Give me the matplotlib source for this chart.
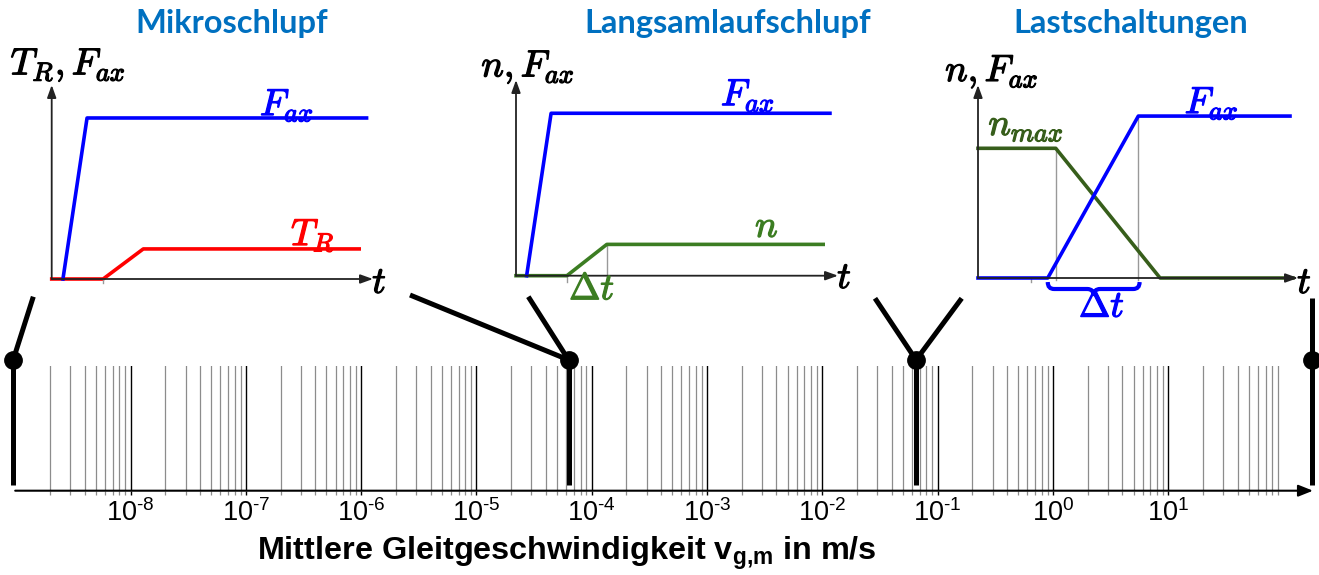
import numpy as np
import matplotlib
matplotlib.use("Agg")
import matplotlib.pyplot as plt
import matplotlib.patheffects as pe
from matplotlib.ticker import FixedLocator, LogLocator, NullFormatter
from matplotlib.patches import ConnectionPatch, PathPatch
from matplotlib.path import Path

plt.rcParams['font.family'] = ['Liberation Sans', 'DejaVu Sans']
plt.rcParams['mathtext.fontset'] = 'custom'
plt.rcParams['mathtext.rm'] = 'Liberation Sans'
plt.rcParams['mathtext.it'] = 'Liberation Sans:italic'
plt.rcParams['mathtext.bf'] = 'Liberation Sans:bold'

# velocity axis
decade_exp = [-8, -7, -6, -5, -4, -3, -2, -1, 0, 1]
v_min, v_max = 1e-9, 180.0
# regime borders in m/s (left, Mikro/Langsam, Langsam/Last, right)
border_v = [9.6e-10, 6.3e-5, 6.5e-2, 176.0]

# schematic curves, t and values normalised to 0..1
d1_fax_t = [0.035, 0.11, 0.98]
d1_fax_y = [0.0, 0.83, 0.83]
d1_tr_t = [0.0, 0.16, 0.285, 0.957]
d1_tr_y = [0.0, 0.0, 0.155, 0.155]

d2_fax_t = [0.033, 0.109, 0.975]
d2_fax_y = [0.0, 0.83, 0.83]
d2_n_t = [0.0, 0.158, 0.282, 0.954]
d2_n_y = [0.0, 0.0, 0.16, 0.16]

d3_n_t = [0.0, 0.243, 0.569, 0.984]
d3_n_y = [0.672, 0.672, 0.0, 0.0]
d3_fax_t = [0.0, 0.218, 0.501, 0.975]
d3_fax_y = [0.0, 0.0, 0.839, 0.839]

W, H = 1319, 575
BLUE = '#0000FF'
RED = '#FF0000'
GREEN = '#3C7D22'
DKGREEN = '#375E1B'
TITLE = '#0070C0'


def fx(px):
    return px / W


def fy(py):
    return 1 - py / H


fig = plt.figure(figsize=(W / 100, H / 100), dpi=100)

# ---- bottom log axis ----
ax = fig.add_axes([fx(15.2), fy(490.7), fx(1313) - fx(15.2), fy(365.7) - fy(490.7)])
ax.set_xscale('log')
ax.set_xlim(v_min, v_max)
ax.set_ylim(0, 1)
for s in ax.spines.values():
    s.set_visible(False)
ax.yaxis.set_visible(False)
ax.xaxis.set_major_locator(FixedLocator([10.0 ** e for e in decade_exp]))
ax.set_xticklabels([r'$10^{\text{-}%d}$' % -e if e < 0 else r'$10^{%d}$' % e
                    for e in decade_exp], fontsize=19.5)
ax.xaxis.set_minor_locator(LogLocator(base=10, subs=np.arange(2, 10), numticks=200))
ax.xaxis.set_minor_formatter(NullFormatter())
ax.grid(True, which='major', color='black', lw=1.0)
ax.grid(True, which='minor', color='#8c8c8c', lw=0.9)
ax.tick_params(which='major', direction='out', length=3, width=1.0, color='black',
               labelsize=19.5, pad=3)
ax.tick_params(which='minor', direction='out', length=3, width=0.9, color='#8c8c8c')
ax.annotate('', xy=(1, 0), xytext=(0, 0), xycoords='axes fraction',
            arrowprops=dict(arrowstyle='-|>,head_length=0.55,head_width=0.22',
                            mutation_scale=16, lw=1.5, color='black',
                            shrinkA=0, shrinkB=0))
ax.set_xlabel(r'Mittlere Gleitgeschwindigkeit v$_{\mathbf{g{,}m}}$ in m/s',
              fontsize=23.3, fontweight='bold')
ax.xaxis.set_label_coords((567 - 15.2) / (1313 - 15.2), (490.7 - 535) / 125)

dot_y = 1.046
base_y = 0.046
for i, v in enumerate(border_v):
    top = 1.54 if i == 3 else dot_y
    ax.plot([v, v], [base_y, top], color='black', lw=3.6, solid_capstyle='butt',
            clip_on=False, zorder=5)
    ax.plot(v, dot_y, 'o', color='black', ms=12.5, clip_on=False, zorder=6)

# connector lines from the border dots up to the diagrams
links = [(0, 33.3, 296.7), (1, 410, 295), (1, 528.3, 296.7),
         (2, 875, 298.3), (2, 961.7, 298.3)]
for i, px, py in links:
    con = ConnectionPatch(xyA=(border_v[i], dot_y), coordsA=ax.transData,
                          xyB=(fx(px), fy(py)), coordsB=fig.transFigure,
                          color='black', lw=3.6, capstyle='butt')
    fig.add_artist(con)


# ---- schematic diagrams ----
def diagram(ox, oy, tip_x, top_y):
    d = fig.add_axes([fx(ox), fy(oy), fx(tip_x) - fx(ox), fy(top_y) - fy(oy)])
    d.set_xlim(0, 1)
    d.set_ylim(0, 1)
    d.axis('off')
    style = dict(arrowstyle='-|>,head_length=0.5,head_width=0.18', mutation_scale=15,
                 lw=1.3, color='#222222', shrinkA=0, shrinkB=0)
    d.annotate('', xy=(1, 0), xytext=(0, 0), xycoords='axes fraction', arrowprops=style)
    d.annotate('', xy=(0, 1), xytext=(0, 0), xycoords='axes fraction', arrowprops=style)
    return d


def mlabel(d, x, y, s, color, size=27):
    d.text(x, y, s, fontsize=size, color=color, math_fontfamily='cm',
           ha='center', va='center',
           path_effects=[pe.withStroke(linewidth=0.9, foreground=color)])


lw = 2.6

d1 = diagram(51.7, 279, 373, 85)
d1.plot(d1_tr_t, d1_tr_y, color=RED, lw=lw, clip_on=False)
d1.plot(d1_fax_t, d1_fax_y, color=BLUE, lw=lw, clip_on=False)
d1.plot([0.16, 0.16], [0, -0.02], color='#999999', lw=1, clip_on=False)
mlabel(d1, 0.051, 1.103, r'$T_R, F_{ax}$', 'black')
mlabel(d1, 0.732, 0.897, r'$F_{ax}$', BLUE)
mlabel(d1, 0.813, 0.227, r'$T_R$', RED)
mlabel(d1, 1.02, -0.02, r'$t$', 'black')

d2 = diagram(516, 275.7, 838, 80)
d2.plot([0.282, 0.282], [0.16, -0.03], color='#999999', lw=1, clip_on=False)
d2.plot([0.158, 0.158], [0, -0.03], color='#999999', lw=1, clip_on=False)
d2.plot(d2_n_t, d2_n_y, color=GREEN, lw=lw, clip_on=False)
d2.plot(d2_fax_t, d2_fax_y, color=BLUE, lw=lw, clip_on=False)
mlabel(d2, 0.037, 1.066, r'$n, F_{ax}$', 'black')
mlabel(d2, 0.72, 0.923, r'$F_{ax}$', BLUE)
mlabel(d2, 0.779, 0.249, r'$n$', GREEN)
mlabel(d2, 0.236, -0.07, r'$\Delta t$', GREEN)
mlabel(d2, 1.02, -0.012, r'$t$', 'black')

d3 = diagram(978, 278, 1298, 85)
d3.plot([0.243, 0.243], [0.672, -0.01], color='#999999', lw=1, clip_on=False)
d3.plot([0.501, 0.501], [0.839, -0.01], color='#999999', lw=1, clip_on=False)
d3.plot([0.166, 0.166], [0, -0.02], color='#999999', lw=1, clip_on=False)
d3.plot(d3_n_t, d3_n_y, color=DKGREEN, lw=lw, clip_on=False)
d3.plot(d3_fax_t, d3_fax_y, color=BLUE, lw=lw, clip_on=False)
mlabel(d3, 0.043, 1.069, r'$n, F_{ax}$', 'black')
mlabel(d3, 0.15, 0.79, r'$n_{max}$', DKGREEN)
mlabel(d3, 0.73, 0.907, r'$F_{ax}$', BLUE)
mlabel(d3, 1.02, -0.026, r'$t$', 'black')

# curly brace under the load ramp
x0, x1 = 0.218, 0.505
xm = (x0 + x1) / 2
yt, ym, yp, dd = -0.021, -0.057, -0.093, 0.02
verts = [(x0, yt), (x0, ym), (x0 + dd, ym), (xm - dd, ym), (xm, ym), (xm, yp),
         (xm, ym), (xm + dd, ym), (x1 - dd, ym), (x1, ym), (x1, yt)]
codes = [Path.MOVETO, Path.CURVE3, Path.CURVE3, Path.LINETO, Path.CURVE3, Path.CURVE3,
         Path.CURVE3, Path.CURVE3, Path.LINETO, Path.CURVE3, Path.CURVE3]
d3.add_patch(PathPatch(Path(verts, codes), fill=False, edgecolor=BLUE, lw=3,
                       clip_on=False))
mlabel(d3, 0.387, -0.149, r'$\Delta t$', BLUE)

# regime titles
for label, cx in [('Mikroschlupf', 232), ('Langsamlaufschlupf', 727.5),
                  ('Lastschaltungen', 1131)]:
    fig.text(fx(cx), fy(23), label, ha='center', va='center', color=TITLE,
             fontsize=23.5, fontweight='bold', family='Lato')

fig.savefig('out.png', dpi=100)
